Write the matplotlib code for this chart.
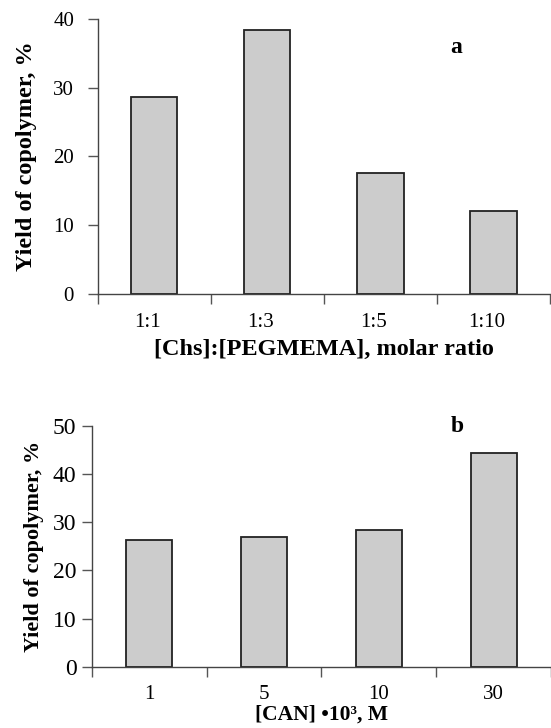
import numpy as np
import matplotlib
matplotlib.use("Agg")
import matplotlib.pyplot as plt

plt.rcParams['font.family'] = ['Liberation Serif', 'DejaVu Serif']

# panel a
ratios = ["1:1", "1:3", "1:5", "1:10"]
yield_a = [28.6, 38.4, 17.6, 12.1]

# panel b
can_conc = ["1", "5", "10", "30"]
yield_b = [26.3, 27.0, 28.3, 44.4]


def bar_panel(ax, labels, values, ymax, bar_w):
    x = np.arange(len(labels))
    ax.bar(x, values, width=bar_w, color="#cccccc", edgecolor="#222222", linewidth=1.3, zorder=2)
    ax.set_xlim(-0.5, len(labels) - 0.5)
    ax.set_ylim(0, ymax)
    ax.set_yticks(np.arange(0, ymax + 1, 10))
    # category boundaries carry the ticks, labels sit in the middle
    ax.set_xticks(np.arange(-0.5, len(labels), 1.0))
    ax.set_xticklabels([])
    ax.tick_params(axis="x", which="major", direction="out", length=7, width=1, color="#555555")
    ax.tick_params(axis="y", direction="out", length=7, width=1, color="#555555")
    for s in ["top", "right"]:
        ax.spines[s].set_visible(False)
    for s in ["left", "bottom"]:
        ax.spines[s].set_color("#444444")
        ax.spines[s].set_linewidth(1)
    return x


fig = plt.figure(figsize=(5.51, 7.28), dpi=100)
ax1 = fig.add_axes([0.1773, 0.5966, 0.8209, 0.3773])
ax2 = fig.add_axes([0.1664, 0.0842, 0.8336, 0.3310])

# --- a ---
x = bar_panel(ax1, ratios, yield_a, 40, 0.41)
ax1.set_xticks(x - 0.06, minor=True)
ax1.set_xticklabels(ratios, minor=True, fontsize=15)
ax1.tick_params(axis="x", which="minor", length=0, pad=14)
ax1.tick_params(axis="y", labelsize=15, pad=10)
ax1.set_ylabel("Yield of copolymer, %", fontsize=17.5, fontweight="bold", labelpad=12)
ax1.set_xlabel("[Chs]:[PEGMEMA], molar ratio", fontsize=17.5, fontweight="bold", va="top")
ax1.xaxis.set_label_coords(0.5, -0.165)
ax1.text(0.792, 0.898, "a", transform=ax1.transAxes, fontsize=17,
         fontweight="bold", ha="center", va="center")

# --- b ---
x = bar_panel(ax2, can_conc, yield_b, 50, 0.40)
ax2.set_xticks(x, minor=True)
ax2.set_xticklabels(can_conc, minor=True, fontsize=15)
ax2.tick_params(axis="x", which="minor", length=0, pad=13)
ax2.tick_params(axis="y", labelsize=17, pad=4)
ax2.set_ylabel("Yield of copolymer, %", fontsize=16, fontweight="bold", labelpad=6)
ax2.set_xlabel("[CAN] •10³, M", fontsize=15.5, fontweight="bold", va="top")
ax2.xaxis.set_label_coords(0.5, -0.158)
ax2.text(0.797, 0.995, "b", transform=ax2.transAxes, fontsize=17,
         fontweight="bold", ha="center", va="center")

fig.savefig("out.png", dpi=100)
